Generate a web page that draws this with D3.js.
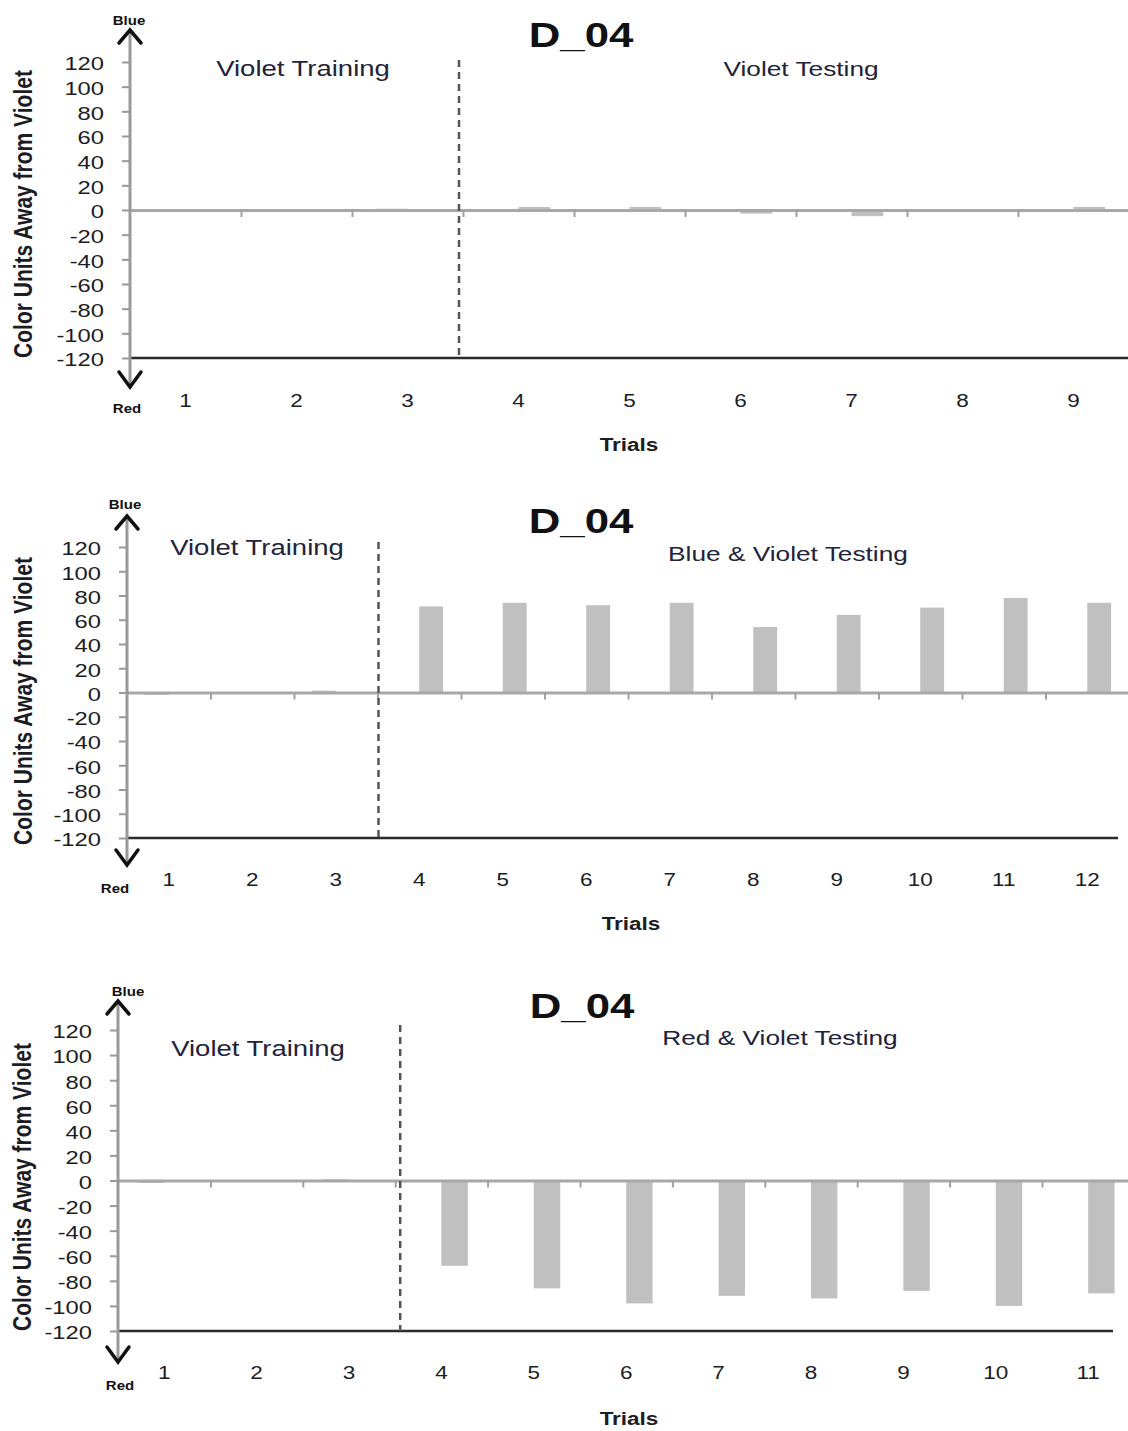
<!DOCTYPE html>
<html><head><meta charset="utf-8">
<script src="https://cdn.jsdelivr.net/npm/d3@7"></script>
<style>body{margin:0;background:#fff} svg{display:block}</style>
</head><body><svg id="c" width="1128" height="1431"></svg>
<script>
// ---------- data ----------
const chartTitle = "D_04";
const yAxisTitle = "Color Units Away from Violet";
const xAxisTitle = "Trials";
const upLabel = "Blue";
const downLabel = "Red";
const trainingLabel = "Violet Training";
const yTickValues = [-120, -100, -80, -60, -40, -20, 0, 20, 40, 60, 80, 100, 120];

const trials1 = ["1","2","3","4","5","6","7","8","9"];
const training1 = [-1.5, 0, 1];
const testing1 = [2.5, 2.5, -3, -5, -1, 2.5];
const testingLabel1 = "Violet Testing";

const trials2 = ["1","2","3","4","5","6","7","8","9","10","11","12"];
const training2 = [-2, 0, 1.5];
const testing2 = [71, 74, 72, 74, 54, 64, 70, 78, 74];
const testingLabel2 = "Blue & Violet Testing";

const trials3 = ["1","2","3","4","5","6","7","8","9","10","11"];
const training3 = [-2, 0, 1];
const testing3 = [-68, -86, -98, -92, -94, -88, -100, -90];
const testingLabel3 = "Red & Violet Testing";

// ---------- layout (positions only) ----------
const SX = 1.25; // horizontal stretch of the original image text
const FONT = "'Liberation Sans', Arial, sans-serif";
const layouts = [
  {ax:130, step:111, yBot:358, yTop:62, arrowTop:30, arrowBot:387, blueY:25, redX:127, redY:413,
   xLabelY:407, trialsX:629, trialsY:451, titleX:581, titleY:47, trainX:303, trainY:76, testX:801, testY:76,
   testSize:21, dashTop:60, dashOff:-4, yTitleX:32, yTitleCY:214, bottomEnd:1128, blueX:129},
  {ax:127, step:83.5, yBot:838, yTop:547, arrowTop:516, arrowBot:865, blueY:509, redX:115, redY:893,
   xLabelY:886, trialsX:631, trialsY:930, titleX:581, titleY:533, trainX:257, trainY:555, testX:788, testY:561,
   testSize:21, dashTop:542, dashOff:1, yTitleX:32, yTitleCY:701, bottomEnd:1118, blueX:125},
  {ax:118, step:92.4, yBot:1331, yTop:1030, arrowTop:1001, arrowBot:1362, blueY:996, redX:120, redY:1390,
   xLabelY:1379, trialsX:629, trialsY:1425, titleX:582, titleY:1018, trainX:258, trainY:1056, testX:780, testY:1045,
   testSize:21, dashTop:1025, dashOff:5, yTitleX:31, yTitleCY:1187, bottomEnd:1113, blueX:128}
];

const panels = [
  {trials: trials1, training: training1, testing: testing1, testLabel: testingLabel1},
  {trials: trials2, training: training2, testing: testing2, testLabel: testingLabel2},
  {trials: trials3, training: training3, testing: testing3, testLabel: testingLabel3}
];

const svg = d3.select("#c");

function txt(g, x, y, s, size, opts = {}) {
  return g.append("text")
    .attr("transform", `translate(${x},${y}) scale(${SX},1)`)
    .attr("text-anchor", opts.anchor || "middle")
    .attr("font-family", FONT)
    .attr("font-size", size)
    .attr("font-weight", opts.bold ? "bold" : "normal")
    .attr("fill", opts.fill || "#1c1c24")
    .text(s);
}

panels.forEach((p, pi) => {
  const L = layouts[pi];
  const g = svg.append("g");
  const n = p.trials.length;

  const x = d3.scaleBand().domain(p.trials).range([L.ax, L.ax + n * L.step]).padding(0);
  const sub = d3.scaleBand().domain(["training", "testing"]).range([0, x.bandwidth()])
    .paddingInner(0).paddingOuter(0.75);
  const y = d3.scaleLinear().domain([-120, 120]).range([L.yBot, L.yTop]);

  const data = p.trials.map((t, i) => ({
    trial: t,
    series: i < p.training.length ? "training" : "testing",
    value: i < p.training.length ? p.training[i] : p.testing[i - p.training.length]
  }));

  // bars
  g.append("g").selectAll("rect").data(data).join("rect")
    .attr("x", d => x(d.trial) + sub(d.series))
    .attr("width", sub.bandwidth())
    .attr("y", d => y(Math.max(0, d.value)))
    .attr("height", d => Math.max(0.8, Math.abs(y(d.value) - y(0))))
    .attr("fill", "#c0c0c0");

  // zero line with category boundary ticks
  const xb = d3.scaleLinear().domain([0, n]).range(x.range());
  const gz = g.append("g").attr("transform", `translate(0,${y(0)})`)
    .call(d3.axisBottom(xb).tickValues(d3.range(1, n + 1)).tickSize(7).tickSizeOuter(0).tickFormat(""));
  gz.select(".domain").attr("stroke", "#a8a8a8").attr("stroke-width", 3);
  gz.selectAll(".tick line").attr("stroke", "#a0a0a0").attr("stroke-width", 2);

  // bottom line at -120
  g.append("line")
    .attr("x1", L.ax).attr("x2", L.bottomEnd)
    .attr("y1", y(-120)).attr("y2", y(-120))
    .attr("stroke", "#2a2a2a").attr("stroke-width", 2.5);

  // vertical axis line with arrows
  g.append("line").attr("x1", L.ax).attr("x2", L.ax)
    .attr("y1", L.arrowTop).attr("y2", L.arrowBot)
    .attr("stroke", "#999").attr("stroke-width", 3);
  g.append("path")
    .attr("d", `M${L.ax - 11},${L.arrowTop + 13} L${L.ax},${L.arrowTop} L${L.ax + 11},${L.arrowTop + 13}`)
    .attr("fill", "none").attr("stroke", "#111").attr("stroke-width", 3.5)
    .attr("stroke-linejoin", "miter").attr("stroke-linecap", "round");
  g.append("path")
    .attr("d", `M${L.ax - 11},${L.arrowBot - 15} L${L.ax},${L.arrowBot} L${L.ax + 11},${L.arrowBot - 15}`)
    .attr("fill", "none").attr("stroke", "#111").attr("stroke-width", 3.5)
    .attr("stroke-linejoin", "miter").attr("stroke-linecap", "round");

  // y axis ticks and labels
  const ga = g.append("g").attr("transform", `translate(${L.ax},0)`)
    .call(d3.axisLeft(y).tickValues(yTickValues).tickSize(8).tickFormat(d => String(d)));
  ga.select(".domain").remove();
  ga.selectAll(".tick line").attr("stroke", "#999").attr("stroke-width", 2);
  ga.selectAll(".tick text")
    .attr("x", null).attr("dy", "0.36em")
    .attr("transform", `translate(-26,1) scale(${SX},1)`)
    .attr("text-anchor", "end")
    .attr("font-family", FONT).attr("font-size", 19).attr("fill", "#1c1c24");

  // x category labels
  const gx = g.append("g").attr("transform", `translate(0,${L.xLabelY})`)
    .call(d3.axisBottom(x).tickSize(0).tickPadding(0));
  gx.select(".domain").remove();
  gx.selectAll(".tick text")
    .attr("y", null).attr("dy", null)
    .attr("transform", `scale(${SX},1)`)
    .attr("font-family", FONT).attr("font-size", 18).attr("fill", "#1c1c24");

  // divider
  g.append("line")
    .attr("x1", x.range()[0] + 3 * L.step + L.dashOff).attr("x2", x.range()[0] + 3 * L.step + L.dashOff)
    .attr("y1", L.dashTop).attr("y2", y(-120))
    .attr("stroke", "#555").attr("stroke-width", 2.5).attr("stroke-dasharray", "7,5");

  // texts
  txt(g, L.blueX, L.blueY, upLabel, 12, {bold: true, fill: "#111"});
  txt(g, L.redX, L.redY, downLabel, 12, {bold: true, fill: "#111"});
  txt(g, L.titleX, L.titleY, chartTitle, 35, {bold: true, fill: "#111"});
  txt(g, L.trainX, L.trainY, trainingLabel, 22, {fill: "#22223a"});
  txt(g, L.testX, L.testY, p.testLabel, L.testSize, {fill: "#22223a"});
  txt(g, L.trialsX, L.trialsY, xAxisTitle, 18, {bold: true, fill: "#1c1c24"});

  g.append("text")
    .attr("transform", `translate(${L.yTitleX},${L.yTitleCY}) scale(${SX},1) rotate(-90)`)
    .attr("text-anchor", "middle")
    .attr("font-family", FONT).attr("font-size", 21).attr("font-weight", "bold")
    .attr("fill", "#1c1c24")
    .text(yAxisTitle);
});
</script></body></html>
